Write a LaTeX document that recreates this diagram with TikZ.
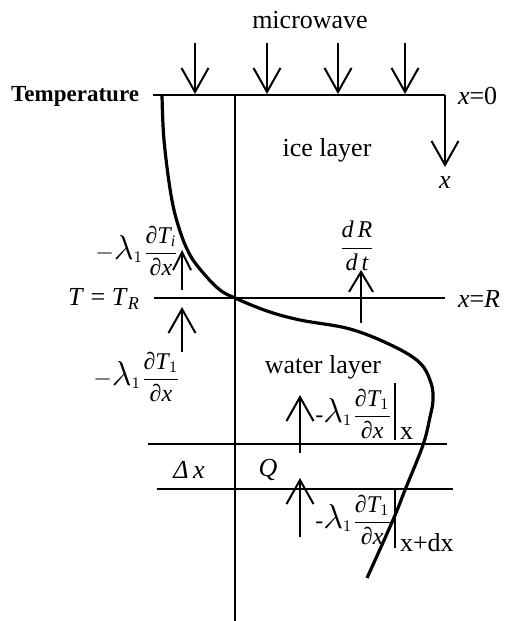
\documentclass[tikz,border=0pt]{standalone}
\usepackage{amsmath}
\usepackage{fontspec}
\setmainfont{Liberation Serif}
\usetikzlibrary{arrows.meta}
\usetikzlibrary{positioning}

\newcommand{\pdr}{\text{∂}}
\newcommand{\vi}[1]{\textit{#1}}
\newcommand{\lam}{\text{\fontsize{16}{18}\selectfont$\lambda$}}

\tikzset{
  barb/.style={-{Straight Barb[length=12pt,width=13.5pt]}},
  smallbarb/.style={-{Straight Barb[length=9pt,width=9pt]}},
  midbarb/.style={-{Straight Barb[length=10pt,width=12pt]}},
  lbl/.style={inner sep=0pt, font=\fontsize{13}{15}\selectfont},
  mlbl/.style={inner sep=0pt, font=\fontsize{12}{14}\selectfont},
}

\begin{document}
\begin{tikzpicture}[x=0.5pt,y=-0.5pt,line width=1pt]
				\useasboundingbox (0,0) rectangle (510,621);
				% layer lines
				\draw (153,95) -- (445,95);
				\draw (154,298) -- (445,298);
				\draw (148,444) -- (447,444);
				\draw (157,489) -- (453,489);
				\draw (235,95) -- (235,621);
				% microwave arrows
				\foreach \x in {195,267,338,405}
				{
					\draw[barb] (\x,43) -- (\x,94);
				}
				\draw[barb] (445,95) -- (445,167);
				% fluxes
				\draw[smallbarb] (182,290) -- (182,250);
				\draw[barb] (182,352) -- (182,307);
				\draw[midbarb] (361,323) -- (361,270);
				\draw[barb] (300,453) -- (300,395);
				\draw[barb] (300,537) -- (300,478);
				% temperature profile
				\draw[line width=1.6pt] plot[smooth, tension=0.6] coordinates {
					(162,95) (164,140) (171,195) (179,228) (190,255) (205,275)
					(220,290) (235,298) (267,311) (300,320) (350,329) (393,346)
					(420,363) (431,383) (433,400) (430,417) (423,445) (405,490)
					(393,520) (367,578)};
				% evaluation bars
				\draw (395,383) -- (395,440);
				\draw (395,490) -- (395,548);
				% labels
				\node[lbl] (mw) at (310,20) {microwave};
				\node[lbl, anchor=east, font=\fontsize{11.5}{13}\selectfont] (temp) at (140,96) {\textbf{Temperature}};
				\node[lbl, anchor=west] (x0) at (457,96) {\vi{x}=0};
				\node[lbl] (ice) at (327,150) {ice layer};
				\node[lbl] (xax) at (445,183) {\vi{x}};
				\node[mlbl] (lami) at (137,251) {$-\lam_1\dfrac{\pdr\vi{T}_{\vi{i}}}{\pdr\vi{x}}$};
				\node[mlbl, font=\fontsize{13}{15}\selectfont] (TR) at (104,299) {\vi{T} = \vi{T}$_{\vi{R}}$};
				\node[mlbl] (dRdt) at (357,246) {$\dfrac{\vi{d\,R}}{\vi{d\,t}}$};
				\node[lbl, anchor=west] (xR) at (457,299) {\vi{x}=\vi{R}};
				\node[lbl] (water) at (323,367) {water layer};
				\node[mlbl] (lamw) at (137,377) {$-\lam_1\dfrac{\pdr\vi{T}_1}{\pdr\vi{x}}$};
				\node[mlbl, anchor=east] (lamx) at (393,414) {-$\lam_1\dfrac{\pdr\vi{T}_1}{\pdr\vi{x}}$};
				\node[lbl, anchor=west] (subx) at (399,434) {x};
				\node[lbl] (dx) at (189,470) {\vi{Δ\,x}};
				\node[lbl] (Q) at (268,470) {\vi{Q}};
				\node[mlbl, anchor=east] (lamxdx) at (393,520) {-$\lam_1\dfrac{\pdr\vi{T}_1}{\pdr\vi{x}}$};
				\node[lbl, anchor=west] (subxdx) at (399,543) {x+dx};
\end{tikzpicture}
\end{document}
